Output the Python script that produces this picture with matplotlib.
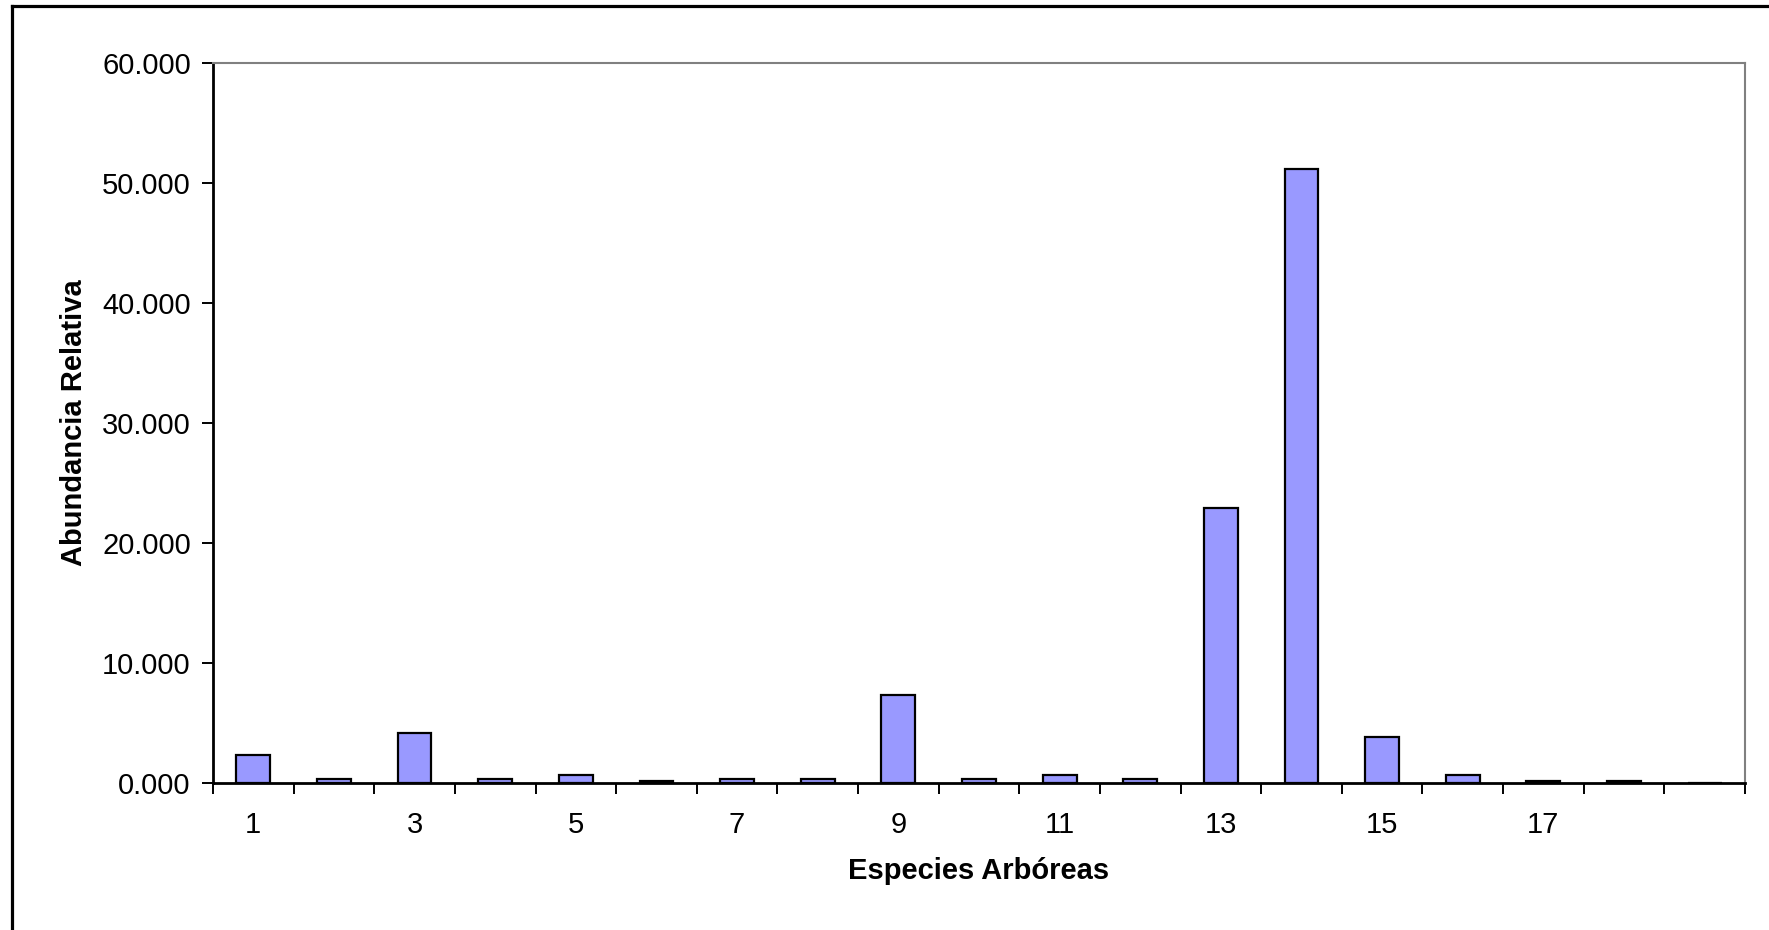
import matplotlib.pyplot as plt
from matplotlib.lines import Line2D
from matplotlib.ticker import FixedLocator

plt.rcParams['font.family'] = ['Liberation Sans', 'DejaVu Sans']

# abundancia relativa (%) por especie arbórea
especies = list(range(1, 20))
abundancia = [2.35, 0.35, 4.2, 0.35, 0.7, 0.17, 0.35, 0.35, 7.35, 0.35,
              0.7, 0.35, 22.9, 51.2, 3.85, 0.7, 0.17, 0.17, 0.0]
etiquetas = ['1', '3', '5', '7', '9', '11', '13', '15', '17']
yticks = [0, 10, 20, 30, 40, 50, 60]

fig = plt.figure(figsize=(17.69, 9.30), dpi=100)
ax = fig.add_axes([0.1204, 0.1581, 0.8660, 0.7742])

ax.bar(especies, abundancia, width=0.42, color='#9999FF',
       edgecolor='black', linewidth=1.6, zorder=3)

ax.set_xlim(0.5, 19.5)
ax.set_ylim(0, 60)

# ticks at category borders, labels on every second category
ax.xaxis.set_major_locator(FixedLocator([i + 0.5 for i in range(0, 20)]))
ax.xaxis.set_minor_locator(FixedLocator([int(e) for e in etiquetas]))
ax.set_xticklabels([], minor=False)
ax.set_xticklabels(etiquetas, minor=True)
ax.tick_params(axis='x', which='major', length=8, width=1.4, direction='out')
ax.tick_params(axis='x', which='minor', length=0, pad=20, labelsize=21)

ax.set_yticks(yticks)
ax.set_yticklabels([f'{v:.3f}' for v in yticks])
ax.tick_params(axis='y', length=8, width=1.4, direction='out', pad=8,
               labelsize=21)

for side in ['left', 'bottom']:
    ax.spines[side].set_linewidth(2)
    ax.spines[side].set_color('black')
for side in ['top', 'right']:
    ax.spines[side].set_linewidth(1.5)
    ax.spines[side].set_color('#808080')

ax.set_xlabel('Especies Arbóreas', fontsize=21, fontweight='bold', labelpad=13)
ax.set_ylabel('Abundancia Relativa', fontsize=21, fontweight='bold')
ax.yaxis.set_label_coords(-0.0815, 0.5)

# marco del área del gráfico (solo arriba e izquierda)
x0, y0 = 12 / 1769, 1 - 6.5 / 930
fig.add_artist(Line2D([x0, 1], [y0, y0], transform=fig.transFigure,
                      color='black', linewidth=2.3))
fig.add_artist(Line2D([x0, x0], [0, y0], transform=fig.transFigure,
                      color='black', linewidth=2.3))

fig.savefig('out.png', dpi=100)
